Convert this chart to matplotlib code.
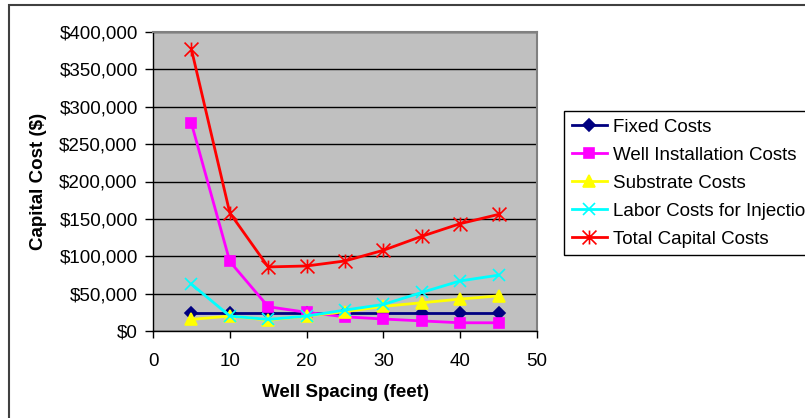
import matplotlib.pyplot as plt
from matplotlib.path import Path
from matplotlib.patches import Rectangle
from matplotlib.ticker import FuncFormatter

plt.rcParams['font.family'] = ['Liberation Sans', 'DejaVu Sans']

# Data
spacing = [5, 10, 15, 20, 25, 30, 35, 40, 45]
fixed_costs = [23500, 23500, 23500, 23500, 23500, 23500, 23500, 23500, 23500]
well_install = [278000, 93000, 32500, 25000, 19000, 16000, 13500, 11000, 11000]
substrate = [15500, 20000, 14700, 20000, 25800, 33000, 37800, 42700, 47000]
labor = [62700, 20000, 15500, 20000, 28000, 35500, 51600, 67000, 74700]
total = [377000, 158000, 85700, 87000, 93700, 108000, 126700, 143600, 156000]

series = [
    ("Fixed Costs", fixed_costs, "#000080", "D", 6),
    ("Well Installation Costs", well_install, "#FF00FF", "s", 7),
    ("Substrate Costs", substrate, "#FFFF00", "^", 8),
    ("Labor Costs for Injection", labor, "#00FFFF", "x", 9),
    ("Total Capital Costs", total, "#FF0000", None, 10),
]

# Excel-style star marker: an X with a vertical bar
star = Path([(0, -1), (0, 1), (-1, -1), (1, 1), (-1, 1), (1, -1)],
            [Path.MOVETO, Path.LINETO, Path.MOVETO, Path.LINETO,
             Path.MOVETO, Path.LINETO])

FS = 13.5

fig = plt.figure(figsize=(8.05, 4.18), dpi=100)
ax = fig.add_axes([153 / 805, 1 - 331 / 418, 384 / 805, 299 / 418])
ax.set_facecolor('#C0C0C0')

for name, vals, color, marker, ms in series:
    m = marker if marker is not None else star
    ax.plot(spacing, vals, color=color, lw=2, marker=m, markersize=ms,
            markeredgecolor=color, markerfacecolor=color, markeredgewidth=1.2,
            label=name, clip_on=False)

ax.set_xlim(0, 50)
ax.set_ylim(0, 400000)
ax.set_xticks(range(0, 51, 10))
ax.set_yticks(range(0, 400001, 50000))
ax.yaxis.set_major_formatter(FuncFormatter(lambda v, p: f"${v:,.0f}"))
ax.grid(axis='y', color='black', lw=1)
ax.set_axisbelow(True)
ax.tick_params(axis='y', direction='out', length=6, width=1, pad=5, labelsize=FS)
ax.tick_params(axis='x', direction='out', length=5, width=1, pad=11, labelsize=FS)

for s in ['top', 'right']:
    ax.spines[s].set_color('#808080')
    ax.spines[s].set_linewidth(1.5)
for s in ['left', 'bottom']:
    ax.spines[s].set_color('black')
    ax.spines[s].set_linewidth(1)

ax.set_xlabel('Well Spacing (feet)', fontsize=FS, fontweight='bold', labelpad=10)
ax.set_ylabel('Capital Cost ($)', fontsize=FS, fontweight='bold', labelpad=9)

# Legend box, partly cut off on the right like the original
leg = fig.legend(loc='upper left', bbox_to_anchor=(564 / 805, 1 - 111 / 418),
                 fontsize=FS, frameon=True, fancybox=False, framealpha=1,
                 edgecolor='black', handlelength=1.9, handletextpad=0.3,
                 labelspacing=0.58, borderpad=0.4, borderaxespad=0)
leg.get_frame().set_linewidth(1)

# Outer chart border
fig.patches.append(Rectangle((9 / 805, -0.2), 1.2, 1.2 - 5 / 418,
                             transform=fig.transFigure, fill=False,
                             edgecolor='#404040', lw=1.5))

fig.savefig('out.png', dpi=100)
